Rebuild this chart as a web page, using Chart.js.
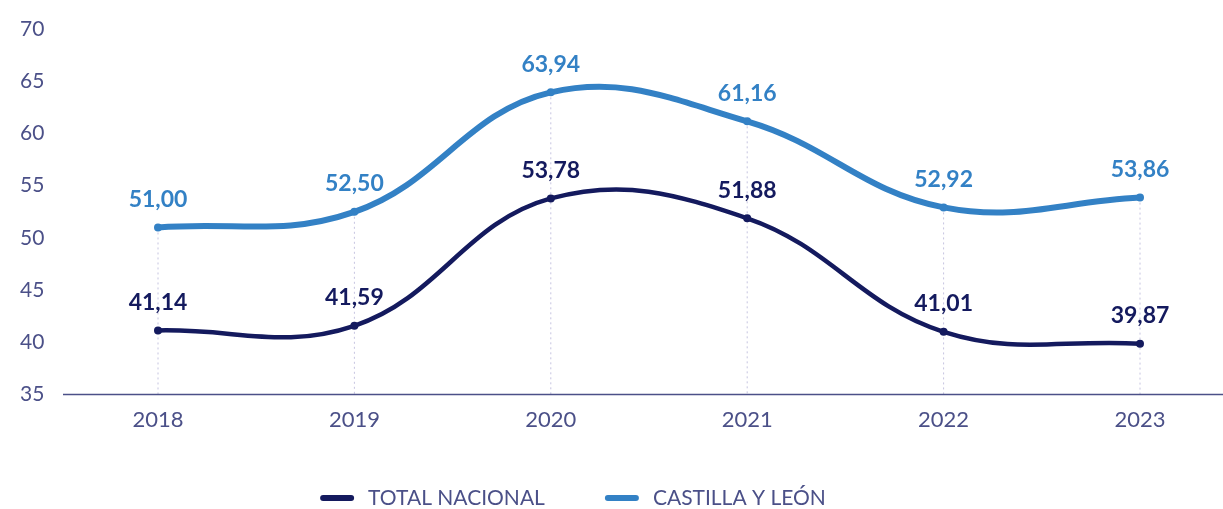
<!DOCTYPE html>
<html>
<head>
<meta charset="utf-8">
<script src="https://cdn.jsdelivr.net/npm/chart.js@4.4.1/dist/chart.umd.min.js"></script>
<style>
  html, body { margin: 0; padding: 0; background: #fff; }
  #wrap { width: 1223px; height: 509px; }
</style>
</head>
<body>
<div id="wrap"><canvas id="lineChart" width="1223" height="509"></canvas></div>
<script>
var years = ["2018", "2019", "2020", "2021", "2022", "2023"];
var totalNacional = [41.14, 41.59, 53.78, 51.88, 41.01, 39.87];
var castillaLeon = [51.00, 52.50, 63.94, 61.16, 52.92, 53.86];
var yTicks = [35, 40, 45, 50, 55, 60, 65, 70];

var NAVY = "#141a5e";
var BLUE = "#3381c5";
var AXIS = "#4b5088";

function fmt(v){
    return v.toFixed(2).replace(".", ",");
}

// dotted drop lines + baseline
var guides = {
    id: 'guides',
    beforeDatasetsDraw: function(chart){
        var ctx = chart.ctx;
        var x = chart.scales.x, y = chart.scales.y;
        var bottom = y.getPixelForValue(35);
        ctx.save();
        ctx.strokeStyle = "#c6c4e0";
        ctx.lineWidth = 1;
        ctx.setLineDash([2, 3]);
        years.forEach(function(yr, i){
            var px = x.getPixelForValue(i);
            var top = y.getPixelForValue(Math.max(totalNacional[i], castillaLeon[i]));
            ctx.beginPath();
            ctx.moveTo(px, top);
            ctx.lineTo(px, bottom);
            ctx.stroke();
        });
        ctx.setLineDash([]);
        ctx.strokeStyle = AXIS;
        ctx.lineWidth = 1.5;
        ctx.beginPath();
        ctx.moveTo(63, bottom);
        ctx.lineTo(chart.width, bottom);
        ctx.stroke();
        ctx.restore();
    }
};

// value labels above points
var valueLabels = {
    id: 'valueLabels',
    afterDatasetsDraw: function(chart){
        var ctx = chart.ctx;
        ctx.save();
        ctx.font = "bold 23px Lato";
        ctx.textAlign = "center";
        ctx.textBaseline = "middle";
        chart.data.datasets.forEach(function(ds, di){
            var meta = chart.getDatasetMeta(di);
            ctx.fillStyle = ds.borderColor;
            meta.data.forEach(function(pt, i){
                ctx.fillText(fmt(ds.data[i]), pt.x, pt.y - 28);
            });
        });
        ctx.restore();
    }
};

// bottom legend with line markers
var lineLegend = {
    id: 'lineLegend',
    afterDraw: function(chart){
        var ctx = chart.ctx;
        var cy = 498, gap = 14, mark = 34, between = 60;
        ctx.save();
        ctx.font = "21px Lato";
        ctx.textBaseline = "middle";
        var items = chart.data.datasets.map(function(ds){
            return { text: ds.label, color: ds.borderColor, w: ctx.measureText(ds.label).width };
        });
        var total = items.reduce(function(s, it){ return s + mark + gap + it.w; }, 0) + between * (items.length - 1);
        var x = 573 - total / 2;
        items.forEach(function(it){
            ctx.strokeStyle = it.color;
            ctx.lineWidth = 6;
            ctx.lineCap = "round";
            ctx.beginPath();
            ctx.moveTo(x + 3, cy);
            ctx.lineTo(x + mark - 3, cy);
            ctx.stroke();
            ctx.fillStyle = AXIS;
            ctx.textAlign = "left";
            ctx.fillText(it.text, x + mark + gap, cy);
            x += mark + gap + it.w + between;
        });
        ctx.restore();
    }
};

var ctxL = document.getElementById("lineChart").getContext('2d');
var myLineChart = new Chart(ctxL, {
    type: 'line',
    data: {
        labels: years,
        datasets: [{
            label: "TOTAL NACIONAL",
            data: totalNacional,
            borderColor: NAVY,
            backgroundColor: NAVY,
            borderWidth: 4.5,
            pointRadius: 4,
            pointBackgroundColor: NAVY,
            pointBorderWidth: 0,
            tension: 0.4,
            fill: false
        }, {
            label: "CASTILLA Y LEÓN",
            data: castillaLeon,
            borderColor: BLUE,
            backgroundColor: BLUE,
            borderWidth: 6,
            pointRadius: 4,
            pointBackgroundColor: BLUE,
            pointBorderWidth: 0,
            tension: 0.4,
            fill: false
        }]
    },
    options: {
        responsive: false,
        animation: false,
        layout: { padding: { left: 20, right: 83, top: 29, bottom: 72 } },
        scales: {
            x: {
                grid: { display: false },
                border: { display: false },
                ticks: {
                    padding: 4,
                    color: AXIS,
                    font: { family: "Lato", size: 22 }
                }
            },
            y: {
                min: 35,
                max: 70,
                afterBuildTicks: function(scale){
                    scale.ticks = yTicks.map(function(v){ return { value: v }; });
                },
                afterFit: function(scale){ scale.width = 138; },
                grid: { display: false },
                border: { display: false },
                ticks: {
                    crossAlign: 'far',
                    padding: 0,
                    color: AXIS,
                    font: { family: "Lato", size: 21 }
                }
            }
        },
        plugins: {
            legend: { display: false },
            tooltip: { enabled: false }
        }
    },
    plugins: [guides, valueLabels, lineLegend]
});
</script>
</body>
</html>
